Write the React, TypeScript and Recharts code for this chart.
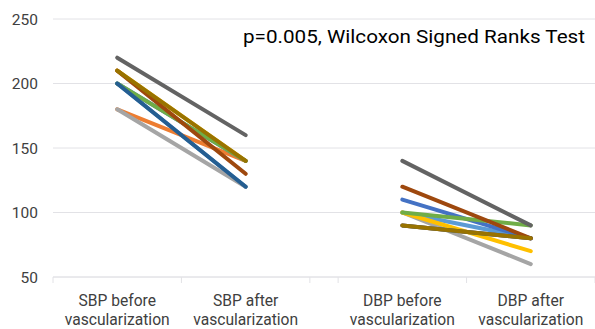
import React from "react";
import { LineChart, Line, XAxis, YAxis, CartesianGrid } from "recharts";

const categories = [
  "SBP before vascularization",
  "SBP after vascularization",
  "DBP before vascularization",
  "DBP after vascularization",
];
// x position (in category band units) of each category centre; a narrow gap separates SBP and DBP
const categoryX = [0.5, 1.5, 2.72, 3.72];
const gapX = 2.11;
const bandEdges = [0, 1, 2, 2.22, 3.22, 4.22];

const sbpBefore = [200, 180, 180, 210, 200, 200, 200, 210, 220, 210];
const sbpAfter = [120, 140, 120, 140, 140, 140, 120, 130, 160, 140];
const dbpBefore = [100, 90, 100, 100, 110, 100, 90, 120, 140, 90];
const dbpAfter = [80, 80, 60, 70, 80, 90, 80, 80, 90, 80];

const colors = [
  "#5B9BD5",
  "#ED7D31",
  "#A5A5A5",
  "#FFC000",
  "#4472C4",
  "#70AD47",
  "#255E91",
  "#9E480E",
  "#636363",
  "#997300",
];

const yTicks = [50, 100, 150, 200, 250];
const title = "p=0.005, Wilcoxon Signed Ranks Test";

const columns = [sbpBefore, sbpAfter, dbpBefore, dbpAfter];

const buildRow = (x: number, values: number[] | null) => {
  const row: Record<string, number | null> = { x };
  colors.forEach((_, i) => {
    row["p" + i] = values ? values[i] : null;
  });
  return row;
};

const data = [
  buildRow(categoryX[0], columns[0]),
  buildRow(categoryX[1], columns[1]),
  buildRow(gapX, null),
  buildRow(categoryX[2], columns[2]),
  buildRow(categoryX[3], columns[3]),
];

const TEXT = "#404040";
const GRID = "#e2e2e6";

const XTick = (props: any) => {
  const { x, y, payload } = props;
  const v = payload.value;
  const idx = categoryX.findIndex((c) => Math.abs(c - v) < 1e-6);
  if (idx < 0) {
    return <line x1={x} x2={x} y1={y} y2={y + 6} stroke={GRID} strokeWidth={1} />;
  }
  const label = categories[idx];
  const cut = label.lastIndexOf(" ");
  const l1 = label.slice(0, cut);
  const l2 = label.slice(cut + 1);
  return (
    <g transform={`translate(${x},${y})`}>
      <text
        x={0}
        y={29}
        textAnchor="middle"
        fill={TEXT}
        fontSize={17}
        fontFamily="Roboto, sans-serif"
        transform="scale(0.92,1)"
      >
        {l1}
      </text>
      <text
        x={0}
        y={48}
        textAnchor="middle"
        fill={TEXT}
        fontSize={17}
        fontFamily="Roboto, sans-serif"
        transform="scale(0.92,1)"
      >
        {l2}
      </text>
    </g>
  );
};

export default function App() {
  const ticks = [...bandEdges, ...categoryX].sort((a, b) => a - b);
  return (
    <div style={{ position: "absolute", left: 0, top: 0, width: 595, height: 329, background: "#fff" }}>
      <LineChart
        width={595}
        height={329}
        data={data}
        margin={{ top: 19, right: 0, bottom: 0, left: 0 }}
        style={{ overflow: "visible" }}
      >
        <CartesianGrid vertical={false} stroke={GRID} strokeWidth={1} />
        <XAxis
          dataKey="x"
          type="number"
          domain={[0, 4.22]}
          ticks={ticks}
          interval={0}
          height={52}
          tickLine={false}
          tickSize={0}
          tickMargin={0}
          axisLine={{ stroke: GRID }}
          tick={<XTick />}
          allowDataOverflow
        />
        <YAxis
          type="number"
          domain={[50, 250]}
          ticks={yTicks}
          interval={0}
          width={53}
          axisLine={false}
          tickLine={false}
          tickSize={0}
          tickMargin={15}
          tick={{ fill: TEXT, fontSize: 15.5, fontFamily: "Roboto, sans-serif" }}
        />
        {colors.map((c, i) => (
          <Line
            key={i}
            dataKey={"p" + i}
            stroke={c}
            strokeWidth={4}
            strokeLinecap="round"
            dot={false}
            activeDot={false}
            connectNulls={false}
            isAnimationActive={false}
          />
        ))}
        <text
          x={243}
          y={43}
          fill="#000"
          fontSize={18}
          fontFamily="Roboto, sans-serif"
          textLength={342}
          lengthAdjust="spacingAndGlyphs"
        >
          {title}
        </text>
      </LineChart>
    </div>
  );
}
